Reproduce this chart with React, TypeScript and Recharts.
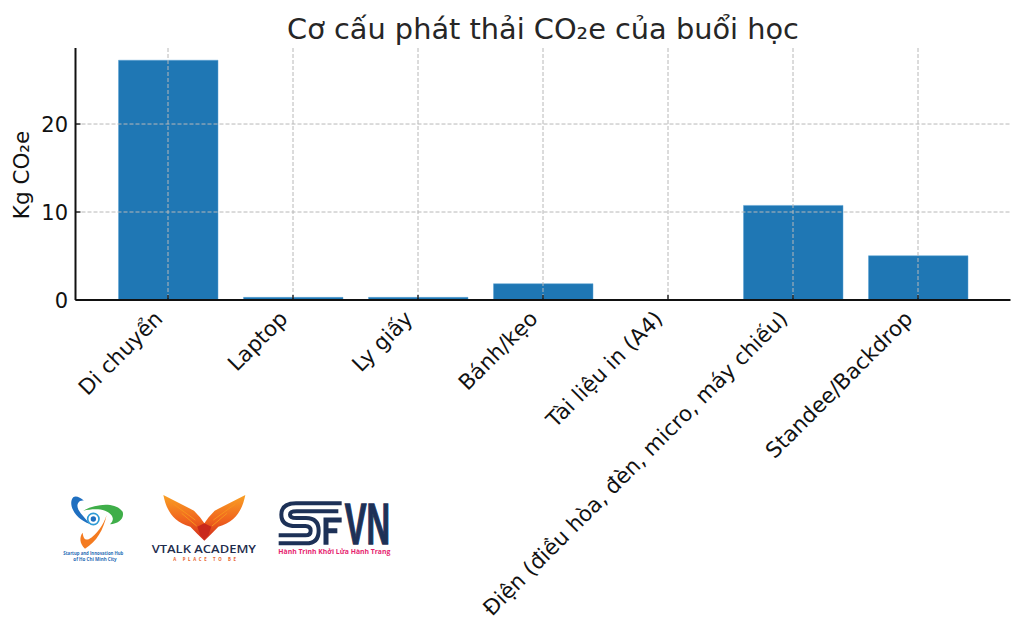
import { BarChart, Bar, XAxis, YAxis, CartesianGrid } from 'recharts'

const categories = [
  'Di chuyển',
  'Laptop',
  'Ly giấy',
  'Bánh/kẹo',
  'Tài liệu in (A4)',
  'Điện (điều hòa, đèn, micro, máy chiếu)',
  'Standee/Backdrop',
]
const emissions = [27.25, 0.3, 0.3, 1.85, 0.02, 10.75, 5.03]
const yTicks = [0, 10, 20]

const data = categories.map((name, i) => ({ name, value: emissions[i] }))

const FONT = '"DejaVu Sans", sans-serif'
const INK = '#262626'

function XTick({ x, y, payload }: { x?: number; y?: number; payload?: { value: string } }) {
  return (
    <g>
      <line x1={x} x2={x} y1={y! - 5} y2={y} stroke="#111" strokeWidth={1.3} />
      <text
        x={0}
        y={0}
        transform={`translate(${x! - 4},${y! + 20}) rotate(-45)`}
        textAnchor="end"
        fontFamily={FONT}
        fontSize={21.5}
        fill="#111"
      >
        {payload!.value}
      </text>
    </g>
  )
}

function YTick({ x, y, payload }: { x?: number; y?: number; payload?: { value: number } }) {
  return (
    <g>
      <line x1={x} x2={x! + 5} y1={y} y2={y} stroke="#111" strokeWidth={1.3} />
      <text x={x! - 7.5} y={y! + 7.5} textAnchor="end" fontFamily={FONT} fontSize={21} fill="#111">
        {payload!.value}
      </text>
    </g>
  )
}

// logos are hand-drawn approximations, coords are 3x of the page px
function Logos() {
  return (
    <svg
      viewBox="0 0 1110 270"
      width={370}
      height={90}
      style={{ position: 'absolute', left: 40, top: 480, overflow: 'visible' }}
    >
      <defs>
        <linearGradient id="wing" x1="0" y1="0" x2="0" y2="1">
          <stop offset="0" stopColor="#f9a024" />
          <stop offset="0.55" stopColor="#f0641e" />
          <stop offset="1" stopColor="#cf2a1c" />
        </linearGradient>
      </defs>
      {/* hub logo */}
      <path d="M132,62 C118,50 100,42 95,60 C88,84 110,118 150,132 C126,104 106,86 114,70 C118,62 125,61 132,62Z" fill="#1f6fc0" />
      <path d="M130,92 C165,72 225,64 248,95 C254,116 235,131 210,133 C228,116 215,100 195,92 C175,85 150,88 130,92Z" fill="#3fae49" />
      <path d="M200,105 C190,150 170,185 135,206 C118,190 118,170 128,158 C130,175 135,181 146,178 C170,165 190,135 200,105Z" fill="#f47b20" />
      <circle cx={160} cy={117} r={17} fill="#fff" stroke="#2e9bd6" strokeWidth={5} />
      <circle cx={160} cy={117} r={8} fill="#1f6fc0" />
      <text x={70} y={224} fontFamily='"Open Sans", sans-serif' fontWeight={700} fontSize={14} fill="#2a6db5" textLength={180} lengthAdjust="spacingAndGlyphs">
        Startup and Innovation Hub
      </text>
      <text x={100} y={243} fontFamily='"Open Sans", sans-serif' fontWeight={700} fontSize={14} fill="#2a6db5" textLength={130} lengthAdjust="spacingAndGlyphs">
        of Ho Chi Minh City
      </text>
      {/* vtalk logo */}
      <path
        d="M370,45 L462,92 L480,112 L493,130 L506,112 L524,92 L616,45 C608,85 590,125 535,140 L516,160 L493,182 L470,160 L451,140 C396,125 378,85 370,45Z"
        fill="url(#wing)"
      />
      <path d="M400,72 L466,120 M425,100 L470,138 M586,72 L520,120 M561,100 L516,138" fill="none" stroke="#f7931e" strokeWidth={3} />
      <path d="M472,140 L493,130 L514,140 L505,166 L493,178 L481,166Z" fill="#c9281c" />
      <text x={335} y={220} fontFamily='"Open Sans", sans-serif' fontWeight={600} fontSize={34} fill="#1f2d4d" textLength={313} lengthAdjust="spacingAndGlyphs">
        VTALK ACADEMY
      </text>
      <text x={400} y={243} fontFamily='"Open Sans", sans-serif' fontWeight={700} fontSize={13} fill="#e8622a" textLength={188} lengthAdjust="spacing">
        A PLACE TO BE
      </text>
      {/* sfvn logo */}
      <path d="M905,70 L768,70 Q724,70 724,104 Q724,138 768,138 L796,138 Q812,138 812,152 Q812,166 796,166 L716,166" fill="none" stroke="#1d3157" strokeWidth={12} />
      <path d="M895,94 L770,94 Q750,94 750,104 Q750,114 770,114 L798,114 Q836,114 836,152 Q836,190 798,190 L716,190" fill="none" stroke="#1d3157" strokeWidth={12} />
      <path d="M858,194 L858,120 L905,120 M858,152 L892,152" fill="none" stroke="#1d3157" strokeWidth={15} />
      <text x={914} y={192} fontFamily='"Liberation Sans", sans-serif' fontWeight={700} fontSize={170} fill="#1d3157" stroke="#1d3157" strokeWidth={4} textLength={136} lengthAdjust="spacingAndGlyphs">
        VN
      </text>
      <text x={715} y={221} fontFamily='"Open Sans", sans-serif' fontWeight={700} fontSize={20} fill="#e6246f" textLength={336} lengthAdjust="spacingAndGlyphs">
        Hành Trình Khởi Lửa Hành Trang
      </text>
    </svg>
  )
}

export default function App() {
  return (
    <div style={{ position: 'absolute', left: 0, top: 0, width: 1024, height: 634, background: '#fff' }}>
      <BarChart
        width={1024}
        height={634}
        data={data}
        margin={{ top: 48, right: 13.5, bottom: 14, left: 15.5 }}
        barSize={99.5}
      >
        <Bar dataKey="value" fill="#1f77b4" stroke="#5ba3d4" strokeWidth={0.5} isAnimationActive={false} zIndex={100} />
        <CartesianGrid stroke="#b8b8b8" strokeWidth={1} strokeDasharray="4 2" syncWithTicks zIndex={200} />
        <XAxis
          dataKey="name"
          height={320}
          interval={0}
          padding={{ left: 30, right: 30 }}
          axisLine={{ stroke: '#111', strokeWidth: 2 }}
          tickLine={false}
          tickSize={0}
          tickMargin={0}
          tick={<XTick />}
          zIndex={300}
        />
        <YAxis
          width={60}
          domain={[0, 28.64]}
          ticks={yTicks}
          allowDataOverflow
          axisLine={{ stroke: '#111', strokeWidth: 2 }}
          tickLine={false}
          tickSize={0}
          tickMargin={0}
          tick={<YTick />}
          zIndex={300}
        />
        <text x={543} y={39} textAnchor="middle" fontFamily={FONT} fontSize={28.8} fill={INK}>
          Cơ cấu phát thải CO₂e của buổi học
        </text>
        <text
          transform="translate(29,175) rotate(-90)"
          textAnchor="middle"
          fontFamily={FONT}
          fontSize={21.5}
          fill="#111"
        >
          Kg CO₂e
        </text>
      </BarChart>
      <Logos />
    </div>
  )
}
